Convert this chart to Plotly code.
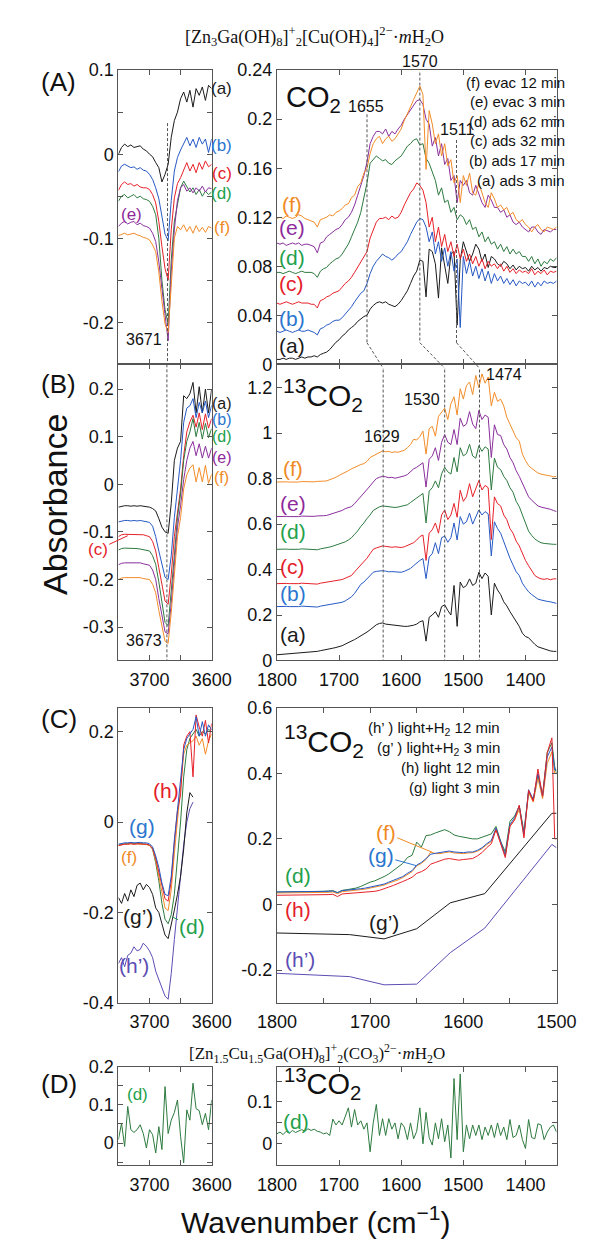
import plotly.graph_objects as go

W, H = 590, 1239
FONT = "Liberation Sans, Arial, sans-serif"
SERIF = "Liberation Serif, Times New Roman, serif"
FRAME = "#555555"

# ---------------- wavenumber grids ----------------
WN_L = list(range(3750, 3599, -5))            # 31 points, OH region
WN_R = list(range(1800, 1349, -5))            # 91 points, 1800-1350
WN_C = list(range(1800, 1504, -5)) + [1502, 1500]   # 62 points, 1800-1500
WN_SPARSE = [1800, 1722, 1685, 1650, 1614, 1577, 1505, 1500]

# ---------------- (A) left ----------------
A_L_a = [.000,.008,.012,.009,.011,.008,.009,.010,.006,.004,.000,-.003,-.010,-.016,-.033,-.024,-.012,.020,.040,.050,.066,.074,.062,.076,.056,.078,.070,.080,.064,.082,.078]
A_L_b = [-.021,-.014,-.012,-.014,-.016,-.015,-.018,-.016,-.019,-.020,-.024,-.030,-.040,-.053,-.075,-.095,-.103,-.055,-.020,-.004,.005,.012,.020,.010,.018,.008,.020,.012,.018,.002,.018]
A_L_c = [-.043,-.036,-.033,-.036,-.035,-.038,-.036,-.039,-.040,-.040,-.042,-.048,-.058,-.080,-.110,-.136,-.150,-.090,-.052,-.035,-.028,-.018,-.010,-.020,-.012,-.022,-.010,-.018,-.008,-.015,-.012]
A_L_d = [-.056,-.050,-.048,-.052,-.050,-.048,-.052,-.050,-.053,-.054,-.056,-.062,-.072,-.100,-.150,-.185,-.202,-.126,-.080,-.060,-.040,-.032,-.038,-.045,-.040,-.048,-.042,-.050,-.044,-.048,-.045]
A_L_e = [-.086,-.082,-.080,-.083,-.081,-.080,-.084,-.082,-.085,-.086,-.088,-.094,-.104,-.128,-.160,-.195,-.222,-.140,-.090,-.055,-.040,-.036,-.044,-.040,-.046,-.040,-.044,-.038,-.045,-.040,-.041]
A_L_f = [-.097,-.095,-.094,-.096,-.095,-.094,-.096,-.097,-.099,-.100,-.102,-.108,-.116,-.140,-.175,-.202,-.212,-.150,-.100,-.086,-.090,-.084,-.092,-.086,-.094,-.085,-.092,-.087,-.093,-.086,-.088]

# ---------------- (A) right ----------------
A_R_f = [.119,.120,.119,.121,.120,.119,.120,.122,.121,.119,
         .118,.117,.116,.112,.118,.119,.120,.122,.121,.124,
         .125,.127,.130,.131,.136,.138,.145,.148,.156,.160,
         .172,.180,.184,.186,.180,.184,.186,.182,.184,.188,
         .192,.199,.204,.210,.216,.222,.227,.220,.159,.207,
         .196,.180,.188,.170,.180,.162,.167,.148,.154,.132,
         .154,.146,.156,.140,.138,.148,.140,.132,.128,.140,
         .135,.128,.130,.126,.128,.122,.124,.118,.116,.118,
         .114,.112,.108,.112,.114,.110,.108,.112,.111,.110, .112]
A_R_e = [.099,.098,.099,.097,.098,.099,.098,.099,.097,.098,
         .098,.097,.096,.091,.099,.100,.104,.106,.108,.110,
         .111,.114,.118,.120,.124,.130,.138,.146,.154,.165,
         .180,.186,.190,.190,.188,.192,.186,.190,.188,.192,
         .195,.200,.204,.208,.212,.215,.216,.212,.200,.196,
         .178,.185,.170,.180,.163,.168,.150,.154,.132,.150,
         .146,.150,.140,.138,.146,.138,.132,.128,.138,.134,
         .128,.128,.124,.126,.120,.122,.116,.114,.116,.112,
         .110,.108,.112,.112,.108,.106,.110,.109,.108,.110, .110]
A_R_d = [.075,.075,.074,.075,.076,.075,.074,.075,.076,.075,
         .075,.075,.074,.071,.076,.078,.079,.082,.084,.086,
         .087,.090,.094,.098,.104,.110,.116,.124,.135,.148,
         .164,.167,.170,.168,.166,.167,.164,.163,.166,.168,
         .170,.174,.178,.180,.183,.184,.179,.180,.168,.164,
         .156,.150,.138,.144,.132,.134,.124,.128,.118,.122,
         .120,.114,.118,.110,.112,.104,.108,.100,.104,.098,
         .100,.094,.098,.092,.096,.090,.094,.090,.092,.088,
         .088,.084,.088,.082,.086,.080,.084,.082,.086,.084, .087]
A_R_c = [.050,.049,.050,.051,.050,.049,.050,.051,.050,.050,
         .050,.049,.049,.046,.052,.053,.055,.056,.058,.059,
         .060,.063,.066,.068,.071,.075,.079,.083,.087,.092,
         .103,.110,.116,.119,.119,.120,.118,.121,.119,.120,
         .124,.130,.135,.140,.143,.148,.146,.142,.132,.112,
         .120,.100,.112,.096,.106,.092,.100,.088,.098,.086,
         .094,.084,.090,.082,.088,.080,.086,.078,.084,.080,
         .082,.078,.082,.076,.080,.075,.078,.074,.077,.075,
         .076,.074,.078,.073,.076,.074,.077,.073,.076,.075, .076]
A_R_b = [.027,.026,.027,.028,.027,.026,.027,.028,.027,.027,
         .028,.027,.026,.024,.029,.030,.032,.033,.035,.036,
         .036,.038,.041,.044,.047,.051,.055,.058,.060,.066,
         .074,.080,.084,.087,.090,.088,.087,.085,.087,.090,
         .092,.096,.100,.106,.111,.116,.119,.118,.112,.100,
         .108,.090,.100,.084,.095,.080,.092,.076,.086,.030,
         .088,.074,.084,.072,.080,.070,.078,.068,.076,.066,
         .074,.068,.072,.066,.070,.065,.069,.064,.068,.066,
         .067,.064,.068,.063,.067,.064,.068,.066,.067,.066, .068]
A_R_a = [.004,.004,.005,.004,.005,.005,.004,.005,.006,.005,
         .006,.006,.007,.006,.008,.009,.010,.012,.015,.018,
         .020,.023,.025,.028,.030,.032,.035,.037,.039,.040,
         .045,.048,.050,.051,.050,.051,.049,.048,.047,.049,
         .052,.056,.060,.066,.072,.076,.085,.084,.055,.094,
         .092,.082,.054,.095,.082,.066,.090,.092,.032,.085,
         .100,.092,.084,.090,.098,.094,.084,.090,.079,.088,
         .086,.082,.080,.084,.082,.078,.081,.077,.080,.078,
         .079,.076,.080,.077,.079,.076,.079,.078,.080,.079, .079]

# ---------------- (B) left ----------------
B_L_a = [-.048,-.046,-.045,-.045,-.046,-.045,-.046,-.045,-.046,-.047,-.048,-.051,-.056,-.072,-.090,-.100,-.103,-.040,.050,.076,.090,.186,.180,.190,.214,.150,.205,.150,.200,.150,.200]
B_L_b = [-.079,-.077,-.076,-.076,-.077,-.076,-.077,-.076,-.077,-.078,-.080,-.088,-.110,-.140,-.166,-.195,-.200,-.150,-.070,-.010,.050,.130,.160,.165,.180,.140,.172,.150,.175,.140,.166]
B_L_c = [-.110,-.106,-.105,-.105,-.106,-.105,-.106,-.105,-.106,-.108,-.110,-.120,-.140,-.175,-.207,-.245,-.252,-.190,-.110,-.060,-.010,.060,.110,.131,.145,.120,.150,.115,.148,.118,.138]
B_L_d = [-.138,-.135,-.134,-.134,-.135,-.134,-.135,-.136,-.137,-.138,-.140,-.150,-.168,-.205,-.248,-.290,-.297,-.230,-.150,-.070,-.020,.050,.090,.110,.138,.100,.130,.095,.128,.098,.117]
B_L_e = [-.169,-.166,-.165,-.165,-.166,-.165,-.166,-.165,-.167,-.168,-.170,-.180,-.200,-.240,-.276,-.310,-.314,-.250,-.170,-.090,-.045,.010,.050,.076,.090,.060,.085,.055,.080,.055,.076]
B_L_f = [-.200,-.197,-.196,-.196,-.197,-.196,-.197,-.196,-.198,-.199,-.200,-.210,-.228,-.265,-.297,-.330,-.334,-.270,-.190,-.110,-.070,-.010,.020,.034,.041,.005,.035,.005,.040,.002,.021]

# ---------------- (B) right ----------------
B_R_f = [.785,.786,.784,.786,.785,.784,.786,.785,.787,.786,
         .786,.785,.786,.788,.787,.789,.790,.795,.800,.806,
         .814,.820,.826,.835,.843,.850,.856,.862,.866,.876,
         .893,.900,.905,.915,.922,.918,.920,.915,.918,.916,
         .920,.925,.936,.950,.973,.970,.985,1.009,.908,1.020,
         1.030,.987,1.074,1.090,1.110,1.060,1.130,1.160,1.080,1.196,
         1.150,1.210,1.225,1.170,1.254,1.200,1.261,1.220,1.247,1.120,
         1.180,1.140,1.150,1.120,1.070,1.040,1.009,.980,.965,.908,
         .880,.857,.845,.835,.825,.820,.816,.814,.812,.808, .810]
B_R_e = [.633,.634,.632,.634,.633,.632,.634,.633,.635,.634,
         .634,.633,.634,.636,.635,.637,.638,.642,.646,.650,
         .655,.660,.668,.672,.677,.690,.705,.720,.734,.750,
         .768,.785,.800,.806,.810,.808,.804,.806,.802,.805,
         .808,.812,.818,.830,.843,.850,.862,.870,.763,.885,
         .900,.936,.880,.960,.994,.960,.950,1.016,.950,1.066,
         1.030,1.040,1.095,1.040,1.020,1.100,1.060,1.080,1.070,.893,
         1.037,.994,.990,.950,.930,.893,.870,.835,.810,.778,
         .750,.720,.705,.691,.680,.675,.672,.670,.665,.660, .655]
B_R_d = [.489,.490,.488,.490,.489,.488,.490,.489,.491,.490,
         .490,.489,.490,.487,.491,.493,.495,.499,.503,.507,
         .511,.516,.522,.530,.540,.555,.570,.590,.605,.625,
         .640,.660,.670,.676,.680,.678,.675,.676,.673,.675,
         .678,.680,.685,.695,.706,.715,.728,.735,.605,.745,
         .760,.790,.760,.821,.850,.830,.820,.893,.830,.936,
         .900,.910,.951,.900,.890,.945,.920,.940,.930,.750,
         .890,.850,.840,.810,.792,.760,.740,.700,.677,.640,
         .600,.569,.550,.535,.525,.518,.515,.513,.512,.511, .511]
B_R_c = [.338,.339,.337,.339,.338,.337,.339,.338,.340,.339,
         .339,.338,.339,.336,.340,.342,.344,.346,.348,.350,
         .352,.356,.362,.368,.374,.390,.405,.420,.431,.450,
         .470,.489,.495,.500,.504,.502,.500,.498,.500,.498,
         .497,.500,.505,.510,.518,.530,.545,.552,.440,.560,
         .575,.605,.560,.640,.662,.620,.640,.691,.630,.749,
         .700,.720,.778,.720,.760,.792,.750,.770,.760,.532,
         .720,.690,.680,.640,.619,.580,.560,.525,.504,.470,
         .440,.417,.395,.374,.365,.359,.357,.360,.355,.359, .359]
B_R_b = [.237,.238,.236,.238,.237,.236,.238,.237,.239,.238,
         .238,.237,.238,.235,.239,.241,.243,.245,.248,.250,
         .251,.256,.262,.270,.280,.295,.315,.335,.345,.360,
         .375,.388,.392,.394,.395,.393,.390,.391,.389,.390,
         .388,.392,.398,.405,.417,.430,.440,.448,.360,.455,
         .470,.518,.470,.540,.547,.520,.540,.605,.530,.633,
         .600,.610,.648,.600,.630,.662,.640,.655,.645,.460,
         .610,.580,.560,.520,.489,.450,.420,.390,.374,.340,
         .320,.302,.290,.280,.270,.266,.262,.260,.258,.256, .251]
B_R_a = [.025,.026,.027,.028,.028,.029,.030,.031,.032,.033,
         .035,.036,.038,.040,.043,.045,.048,.051,.054,.057,
         .060,.065,.072,.078,.085,.092,.100,.108,.114,.125,
         .135,.147,.157,.163,.165,.160,.158,.155,.153,.152,
         .150,.150,.150,.152,.155,.160,.170,.175,.085,.190,
         .200,.215,.190,.237,.245,.220,.200,.330,.150,.345,
         .320,.330,.359,.330,.340,.388,.360,.385,.370,.200,
         .340,.310,.290,.258,.240,.215,.195,.172,.150,.120,
         .105,.100,.085,.071,.060,.055,.050,.045,.042,.040, .040]

# ---------------- (C) left ----------------
N6 = [None] * 6
C_L_g = [-.049,-.047,-.046,-.046,-.045,-.046,-.045,-.045,-.046,-.046,-.048,-.055,-.075,-.100,-.135,-.160,-.163,-.120,-.040,.030,.100,.160,.185,.195,.205,.233,.190,.222,.190,.215,.204]
C_L_h = [-.052,-.050,-.049,-.049,-.048,-.049,-.048,-.048,-.049,-.049,-.051,-.058,-.080,-.110,-.145,-.170,-.175,-.130,-.045,.025,.060,.170,.190,.200,.100,.237,.210,.190,.225,.175,.218]
C_L_f = [-.052,-.050,-.049,-.049,-.048,-.049,-.048,-.049,-.049,-.050,-.052,-.060,-.085,-.120,-.160,-.190,-.196,-.150,-.070,.000,.080,.150,.170,.175,.180,.190,.170,.185,.150,.180,.195]
C_L_d = [-.051,-.049,-.048,-.048,-.047,-.048,-.047,-.048,-.048,-.049,-.051,-.060,-.090,-.130,-.180,-.215,-.225,-.205,-.160,-.080,.000,.100,.160,.185,.195,.205,.190,.200,.195,.205,.200]
C_L_gp = [-.167,-.180,-.158,-.175,-.150,-.165,-.140,-.135,-.150,-.138,-.145,-.160,-.190,-.200,-.225,-.250,-.258,-.228,-.195,-.160,-.120,-.060,.020,.065,.055] + N6
C_L_hp = [-.313,-.300,-.320,-.295,-.290,-.276,-.285,-.282,-.268,-.275,-.285,-.300,-.330,-.350,-.370,-.385,-.392,-.335,-.260,-.190,-.120,-.050,.000,.030,.044] + N6

# ---------------- (C) right ----------------
C_R_d = [.038,.038,.039,.038,.038,.039,.038,.039,.039,.040,
         .040,.041,.042,.036,.043,.045,.047,.050,.055,.062,
         .068,.072,.078,.085,.093,.103,.113,.125,.143,.150,
         .190,.175,.210,.212,.218,.222,.228,.222,.212,.208,
         .205,.202,.200,.200,.205,.212,.215,.238,.193,.160,
         .253,.270,.300,.223,.343,.320,.393,.335,.463,.493, .420,.400]
C_R_g = [.038,.038,.039,.038,.038,.039,.038,.039,.039,.040,
         .040,.040,.041,.036,.042,.043,.044,.046,.048,.050,
         .053,.055,.058,.062,.068,.073,.078,.085,.095,.103,
         .120,.128,.140,.153,.156,.158,.160,.163,.160,.158,
         .158,.160,.160,.165,.173,.185,.195,.233,.193,.150,
         .243,.265,.300,.213,.350,.320,.400,.330,.450,.480, .410,.410]
C_R_f = [.035,.035,.036,.035,.035,.036,.035,.036,.036,.037,
         .037,.037,.038,.033,.039,.040,.041,.043,.045,.047,
         .050,.052,.055,.059,.065,.069,.075,.082,.092,.100,
         .118,.125,.137,.160,.155,.155,.158,.160,.157,.155,
         .155,.157,.158,.162,.170,.182,.192,.228,.188,.148,
         .238,.258,.290,.210,.340,.312,.385,.322,.430,.465, .400,.400]
C_R_h = [.028,.028,.029,.028,.028,.029,.028,.029,.029,.030,
         .030,.030,.031,.024,.032,.033,.034,.035,.036,.037,
         .038,.040,.043,.047,.053,.058,.063,.070,.076,.083,
         .095,.100,.108,.123,.128,.133,.138,.140,.137,.135,
         .137,.138,.140,.148,.158,.173,.185,.228,.185,.143,
         .238,.258,.303,.203,.348,.315,.413,.330,.463,.508, .200,.200]
C_R_gp = [-.087, -.092, -.105, -.074, .005, .033, .278, .278]
C_R_hp = [-.210, -.220, -.245, -.243, -.147, -.072, .183, .173]

# ---------------- (D) ----------------
D_L = [.009,.052,-.009,.096,.035,.028,.035,.048,.025,-.013,.035,.022,-.026,.043,-.017,.148,.025,.060,.080,.113,.018,-.052,.087,.060,.157,.090,.085,.048,.078,.035,.113]
D_R = [.024,.028,.022,.030,.025,.032,.027,.030,.034,.030,
       .036,.032,.035,.030,.028,.024,.026,.020,.059,.045,
       .055,.045,.067,.086,.040,.082,.045,.055,.035,.050,
       -.019,.050,.094,.020,.060,.020,.060,.035,.050,.012,
       .050,.040,.010,.050,.012,.030,.086,.000,.075,.015,
       -.003,.050,.012,.060,.005,.045,-.034,.156,.010,.167,
       -.019,.045,.012,.045,.020,.045,.010,.040,.020,.045,
       .015,.050,.020,.040,.010,.058,.015,.020,.045,.010,
       -.011,.058,.015,.012,.048,.045,.010,.028,.040,.045, .028]

for arr, grid in [(A_L_a, WN_L), (A_L_f, WN_L), (A_R_a, WN_R), (A_R_f, WN_R), (A_R_b, WN_R),
                  (A_R_c, WN_R), (A_R_d, WN_R), (A_R_e, WN_R), (B_R_a, WN_R), (B_R_b, WN_R),
                  (B_R_c, WN_R), (B_R_d, WN_R), (B_R_e, WN_R), (B_R_f, WN_R), (C_R_d, WN_C),
                  (C_R_g, WN_C), (C_R_f, WN_C), (C_R_h, WN_C), (D_R, WN_R), (D_L, WN_L),
                  (C_L_gp, WN_L), (C_L_hp, WN_L), (B_L_a, WN_L), (C_L_g, WN_L)]:
    assert len(arr) == len(grid), (len(arr), len(grid))

# ---------------- colours ----------------
BLK, BLU, RED, GRN, PUR, ORG, HP = "#1b1b1b", "#2759c4", "#e62129", "#2d7a3f", "#8a2f9c", "#f28c28", "#5b4db3"
L_BLU, L_GRN, L_PUR, L_ORG, L_RED = "#2a76cf", "#22a04b", "#8e2a9a", "#f08a24", "#e4202a"

fig = go.Figure()

def add(x, y, color, ax, width=1.0):
    fig.add_trace(go.Scatter(x=x, y=y, mode="lines", line=dict(color=color, width=width),
                             xaxis="x" + ax, yaxis="y" + ax, hoverinfo="skip", connectgaps=False))

# A
for y, c in [(A_L_a, BLK), (A_L_b, BLU), (A_L_c, RED), (A_L_d, GRN), (A_L_e, PUR), (A_L_f, ORG)]:
    add(WN_L, y, c, "")
for y, c in [(A_R_a, BLK), (A_R_b, BLU), (A_R_c, RED), (A_R_d, GRN), (A_R_e, PUR), (A_R_f, ORG)]:
    add(WN_R, y, c, "2")
# B
for y, c in [(B_L_a, BLK), (B_L_b, BLU), (B_L_c, RED), (B_L_d, GRN), (B_L_e, PUR), (B_L_f, ORG)]:
    add(WN_L, y, c, "3")
for y, c in [(B_R_a, BLK), (B_R_b, BLU), (B_R_c, RED), (B_R_d, GRN), (B_R_e, PUR), (B_R_f, ORG)]:
    add(WN_R, y, c, "4")
# C
for y, c in [(C_L_hp, HP), (C_L_gp, BLK), (C_L_d, GRN), (C_L_f, ORG), (C_L_h, RED), (C_L_g, BLU)]:
    add(WN_L, y, c, "5")
add(WN_SPARSE, C_R_hp, HP, "6")
add(WN_SPARSE, C_R_gp, BLK, "6")
for y, c in [(C_R_d, GRN), (C_R_f, ORG), (C_R_g, BLU), (C_R_h, RED)]:
    add(WN_C, y, c, "6")
# D
add(WN_L, D_L, GRN, "7")
add(WN_R, D_R, GRN, "8")

# ---------------- axes ----------------
def px2x(p): return p / W
def px2y(p): return 1 - p / H

XL = [px2x(97), px2x(197)]
XR = [px2x(267), px2x(567)]
ROWS = {"A": [px2y(352), px2y(53)], "B": [px2y(653), px2y(352)],
        "C": [px2y(1001), px2y(701)], "D": [px2y(1166), px2y(1066)]}

def axis(minor_vals=None, **kw):
    d = dict(showline=True, linecolor=FRAME, linewidth=1, mirror="ticks", ticks="inside",
             ticklen=5, tickcolor=FRAME, tickwidth=1, showgrid=False, zeroline=False,
             tickfont=dict(size=18, color="#111", family=FONT), autorange=False)
    if minor_vals is not None:
        d["minor"] = dict(tickvals=minor_vals, ticks="inside", ticklen=5, tickcolor=FRAME,
                          tickwidth=1, showgrid=False)
    d.update(kw)
    return d

LX_MAJOR = [3700, 3600]
LX_MINOR = [3750, 3650]
RX_MAJOR = [1800, 1700, 1600, 1500, 1400]
CX_MAJOR = [1800, 1700, 1600, 1500]
CX_MINOR = [1750, 1650, 1550]
SO = 3

layout = dict(width=W, height=H, margin=dict(l=0, r=0, t=0, b=0), showlegend=False,
              paper_bgcolor="white", plot_bgcolor="white")

layout["xaxis"] = axis(LX_MINOR, domain=XL, range=[3750, 3600], anchor="y", tickvals=LX_MAJOR, showticklabels=False)
layout["yaxis"] = axis([-0.25, -0.15, -0.05, 0.05], domain=ROWS["A"], range=[-0.25, 0.1], anchor="x",
                       tickvals=[-0.2, -0.1, 0, 0.1], ticktext=["-0.2", "-0.1", "0", "0.1"])
layout["xaxis2"] = axis(None, domain=XR, range=[1800, 1350], anchor="y2", tickvals=RX_MAJOR, showticklabels=False)
layout["yaxis2"] = axis(None, domain=ROWS["A"], range=[0, 0.24], anchor="x2",
                        tickvals=[0, 0.04, 0.08, 0.12, 0.16, 0.2, 0.24],
                        ticktext=["0", "0.04", "0.08", "0.12", "0.16", "0.2", "0.24"])
layout["xaxis3"] = axis(LX_MINOR, domain=XL, range=[3750, 3600], anchor="y3", tickvals=LX_MAJOR,
                        ticktext=["3700", "3600"], ticklabelstandoff=SO)
layout["yaxis3"] = axis(None, domain=ROWS["B"], range=[-0.37, 0.252], anchor="x3",
                        tickvals=[-0.3, -0.2, -0.1, 0, 0.1, 0.2],
                        ticktext=["-0.3", "-0.2", "-0.1", "0", "0.1", "0.2"])
layout["xaxis4"] = axis(None, domain=XR, range=[1800, 1350], anchor="y4", tickvals=RX_MAJOR,
                        ticktext=["1800", "1700", "1600", "1500", "1400"], ticklabelstandoff=SO)
layout["yaxis4"] = axis(None, domain=ROWS["B"], range=[0, 1.303], anchor="x4",
                        tickvals=[0, 0.2, 0.4, 0.6, 0.8, 1.0, 1.2],
                        ticktext=["0", "0.2", "0.4", "0.6", "0.8", "1", "1.2"])
layout["xaxis5"] = axis(LX_MINOR, domain=XL, range=[3750, 3600], anchor="y5", tickvals=LX_MAJOR,
                        ticktext=["3700", "3600"], ticklabelstandoff=SO)
layout["yaxis5"] = axis(None, domain=ROWS["C"], range=[-0.40, 0.253], anchor="x5",
                        tickvals=[-0.4, -0.2, 0, 0.2], ticktext=["-0.4", "-0.2", "0", "0.2"])
layout["xaxis6"] = axis(CX_MINOR, domain=XR, range=[1800, 1500], anchor="y6", tickvals=CX_MAJOR,
                        ticktext=["1800", "1700", "1600", "1500"], ticklabelstandoff=SO)
layout["yaxis6"] = axis(None, domain=ROWS["C"], range=[-0.30, 0.60], anchor="x6",
                        tickvals=[-0.2, 0, 0.2, 0.4, 0.6], ticktext=["-0.2", "0", "0.2", "0.4", "0.6"])
layout["xaxis7"] = axis(LX_MINOR, domain=XL, range=[3750, 3600], anchor="y7", tickvals=LX_MAJOR,
                        ticktext=["3700", "3600"], ticklabelstandoff=SO)
layout["yaxis7"] = axis([-0.05, 0.05, 0.15], domain=ROWS["D"], range=[-0.058, 0.2], anchor="x7",
                        tickvals=[0, 0.1, 0.2], ticktext=["0", "0.1", "0.2"])
layout["xaxis8"] = axis(None, domain=XR, range=[1800, 1350], anchor="y8", tickvals=RX_MAJOR,
                        ticktext=["1800", "1700", "1600", "1500", "1400"], ticklabelstandoff=SO)
layout["yaxis8"] = axis([-0.05, 0.05, 0.15], domain=ROWS["D"], range=[-0.051, 0.184], anchor="x8",
                        tickvals=[0, 0.1], ticktext=["0", "0.1"])
fig.update_layout(**layout)

# ---------------- dashed guide lines ----------------
DASH = dict(color="#555555", width=1, dash="3px,2px")
shapes = []
def vline(x, y0, y1, ax):
    shapes.append(dict(type="line", xref="x" + ax, yref="y" + ax, x0=x, x1=x, y0=y0, y1=y1, line=DASH))
vline(3671, 0.037, -0.25, "")
vline(3672, 0.252, -0.37, "3")
for wn, top in [(1655, 0.204), (1570, 0.238), (1511, 0.183)]:
    vline(wn, top, 0.0176, "2")
for a, b in [(1655, 1629), (1570, 1530), (1511, 1474)]:
    shapes.append(dict(type="line", xref="x2", yref="paper", x0=a, x1=b,
                       y0=px2y(330), y1=px2y(356), line=DASH))
for wn in [1629, 1530, 1474]:
    vline(wn, 1.28, 0, "4")
fig.update_layout(shapes=shapes)

# ---------------- text ----------------
ann = []
def T(s, x, y, size, color="#111", xanchor="center", family=FONT, angle=0):
    ann.append(dict(text=s, x=px2x(x), y=px2y(y), xref="paper", yref="paper", showarrow=False,
                    font=dict(size=size, color=color, family=family), xanchor=xanchor,
                    yanchor="middle", textangle=angle))

def TA(s, ax_id, x, y, dx, dy, size, color):
    ann.append(dict(text=s, x=x, y=y, xref="x" + ax_id, yref="y" + ax_id, showarrow=True,
                    arrowhead=0, arrowwidth=1, arrowcolor=color, ax=dx, ay=dy,
                    font=dict(size=size, color=color, family=FONT)))

T("[Zn<sub>3</sub>Ga(OH)<sub>8</sub>]<sup>+</sup><sub>2</sub>[Cu(OH)<sub>4</sub>]<sup>2−</sup>·<i>m</i>H<sub>2</sub>O",
  307, 19, 18, family=SERIF)
T("[Zn<sub>1.5</sub>Cu<sub>1.5</sub>Ga(OH)<sub>8</sub>]<sup>+</sup><sub>2</sub>(CO<sub>3</sub>)<sup>2−</sup>·<i>m</i>H<sub>2</sub>O",
  310, 1052, 17, family=SERIF)

for s, y in [("(A)", 65), ("(B)", 372), ("(C)", 712), ("(D)", 1083)]:
    T(s, 33, y, 26)

T("Absorbance", 29, 495, 34, angle=-90)
T("Wavenumber (cm<sup>−1</sup>)", 309, 1222, 30)

# molecule tags
T("CO<sub>2</sub>", 306, 82, 29)
T("<sup>13</sup>CO<sub>2</sub>", 316, 383, 30)
T("<sup>13</sup>CO<sub>2</sub>", 317, 735, 30)
T("<sup>13</sup>CO<sub>2</sub>", 316, 1083, 29)

# peak labels
T("1655", 363, 90, 16); T("1570", 420, 44, 16); T("1511", 461, 113, 16)
T("1629", 380, 425, 16); T("1530", 423, 388, 16); T("1474", 511, 362, 16)
T("3671", 124, 327, 16); T("3673", 124, 633, 16)

# A right legend
for s, y in [("(f) evac 12 min", 66), ("(e) evac 3 min", 85), ("(d) ads 62 min", 105),
             ("(c) ads 32 min", 125), ("(b) ads 17 min", 145), ("(a) ads 3 min", 165)]:
    T(s, 578, y, 15, xanchor="right")
# C right legend
for s, y in [("(h’ ) light+H<sub>2</sub> 12 min", 722), ("(g’ ) light+H<sub>2</sub> 3 min", 742),
             ("(h) light 12 min", 762), ("(g) light 3 min", 782)]:
    T(s, 509, y, 15, xanchor="right")

# A labels
for s, c, x, y in [("(a)", BLK, 208, 72), ("(b)", L_BLU, 208, 130), ("(c)", L_RED, 208, 158),
                   ("(d)", L_GRN, 208, 178), ("(f)", L_ORG, 208, 213), ("(e)", L_PUR, 111, 200)]:
    T(s, x, y, 17, c)
for s, c, y in [("(f)", L_ORG, 190), ("(e)", L_PUR, 213), ("(d)", L_GRN, 243),
                ("(c)", L_RED, 270), ("(b)", L_BLU, 305), ("(a)", BLK, 333)]:
    T(s, 283, y, 21, c)
# B labels
for s, c, y in [("(a)", BLK, 392), ("(b)", L_BLU, 408), ("(d)", L_GRN, 425),
                ("(e)", L_PUR, 447), ("(f)", L_ORG, 467)]:
    T(s, 208, y, 16, c)
TA("(c)", "3", 3735, -0.108, -30, 14, 17, L_RED)
for s, c, y in [("(f)", L_ORG, 458), ("(e)", L_PUR, 493), ("(d)", L_GRN, 522),
                ("(c)", L_RED, 558), ("(b)", L_BLU, 585), ("(a)", BLK, 627)]:
    T(s, 284, y, 21, c)
# C labels
T("(h)", 148, 785, 21, L_RED)
T("(g)", 122, 822, 21, L_BLU)
T("(f)", 108, 853, 17, L_ORG)
T("(g’)", 118, 913, 21, BLK)
T("(h’)", 114, 963, 21, HP)
TA("(d)", "5", 3663, -0.21, 20, 10, 21, L_GRN)
T("(d)", 290, 872, 21, L_GRN)
T("(h)", 290, 906, 21, L_RED)
T("(g’)", 382, 919, 21, BLK)
T("(h’)", 292, 957, 21, HP)
TA("(f)", "6", 1634, 0.16, -46, -19, 21, L_ORG)
TA("(g)", "6", 1650, 0.118, -36, -10, 21, L_BLU)
# D labels
T("(d)", 117, 1094, 17, L_GRN)
T("(d)", 288, 1122, 21, L_GRN)

fig.update_layout(annotations=ann)
fig.write_html("out.html")
